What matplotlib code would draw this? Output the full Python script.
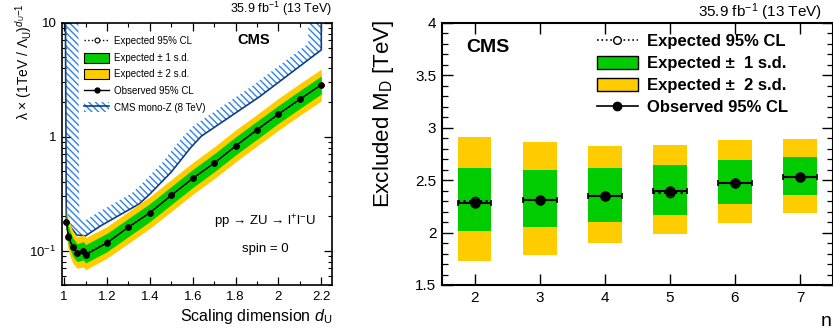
import matplotlib.pyplot as plt
import numpy as np
from matplotlib.lines import Line2D
from matplotlib.patches import Patch, Polygon
from matplotlib.ticker import FuncFormatter, MultipleLocator, NullFormatter, LogLocator

plt.rcParams["font.family"] = ["Liberation Sans", "DejaVu Sans"]
plt.rcParams["mathtext.fontset"] = "custom"
plt.rcParams["mathtext.rm"] = "Liberation Sans"
plt.rcParams["mathtext.it"] = "Liberation Sans:italic"
plt.rcParams["mathtext.bf"] = "Liberation Sans:bold"
plt.rcParams["hatch.linewidth"] = 1.0

GREEN = "#00cc00"
YELLOW = "#ffcc00"
HATCH_BLUE = "#2f82e0"
NAVY = "#123f7c"

# gauche : limites unparticle en fonction de d_U
d_u = [1.01, 1.02, 1.04, 1.06, 1.09, 1.10, 1.2, 1.3, 1.4, 1.5, 1.6, 1.7, 1.8, 1.9, 2.0, 2.1, 2.2]
obs_lambda = [0.177, 0.133, 0.107, 0.095, 0.099, 0.092, 0.117, 0.161, 0.215, 0.306, 0.431,
              0.585, 0.828, 1.15, 1.58, 2.13, 2.86]
exp_lambda = [0.180, 0.135, 0.108, 0.096, 0.100, 0.094, 0.118, 0.160, 0.216, 0.305, 0.430,
              0.590, 0.830, 1.14, 1.57, 2.12, 2.84]
exp_1sd_lo = [0.150, 0.112, 0.090, 0.080, 0.083, 0.078, 0.098, 0.133, 0.180, 0.254, 0.358,
              0.492, 0.692, 0.95, 1.31, 1.77, 2.37]
exp_1sd_hi = [0.216, 0.162, 0.130, 0.115, 0.120, 0.113, 0.142, 0.192, 0.259, 0.366, 0.516,
              0.708, 0.996, 1.37, 1.88, 2.54, 3.41]
exp_2sd_lo = [0.130, 0.098, 0.078, 0.070, 0.072, 0.068, 0.086, 0.116, 0.157, 0.221, 0.312,
              0.428, 0.601, 0.83, 1.14, 1.54, 2.06]
exp_2sd_hi = [0.248, 0.186, 0.149, 0.132, 0.138, 0.130, 0.163, 0.221, 0.298, 0.421, 0.593,
              0.814, 1.145, 1.57, 2.17, 2.93, 3.92]

# CMS mono-Z 8 TeV
monoz_d = [1.006, 1.01, 1.06, 1.10, 1.17, 1.35, 1.40, 1.50, 1.59, 1.64, 1.91, 2.20, 2.20]
monoz_lim = [12.0, 0.18, 0.137, 0.135, 0.165, 0.257, 0.314, 0.49, 0.80, 1.01, 2.23, 5.77, 12.0]

# droite : limites sur M_D en fonction de n
n_dim = [2, 3, 4, 5, 6, 7]
obs_md = [2.28, 2.31, 2.35, 2.40, 2.47, 2.53]
exp_md = [2.30, 2.31, 2.35, 2.38, 2.47, 2.53]
md_1sd_lo = [2.015, 2.053, 2.097, 2.167, 2.275, 2.357]
md_1sd_hi = [2.615, 2.596, 2.615, 2.643, 2.690, 2.720]
md_2sd_lo = [1.728, 1.790, 1.900, 1.989, 2.094, 2.189]
md_2sd_hi = [2.913, 2.866, 2.825, 2.834, 2.882, 2.891]

W, H = 833, 334


def px(x, y):
    return x / W, 1 - y / H


def band_inside(ax, xs, ys, width_px):
    pts = ax.transData.transform(np.column_stack([xs, ys]))
    seg = np.diff(pts, axis=0)
    seg /= np.hypot(seg[:, 0], seg[:, 1])[:, None]
    normals = np.column_stack([-seg[:, 1], seg[:, 0]])
    off = []
    for i in range(len(pts)):
        if i == 0:
            n = normals[0]
        elif i == len(pts) - 1:
            n = normals[-1]
        else:
            m = normals[i - 1] + normals[i]
            m /= np.hypot(*m)
            n = m / np.dot(m, normals[i])
        off.append(pts[i] + width_px * n)
    inner = ax.transData.inverted().transform(np.array(off))
    return np.vstack([np.column_stack([xs, ys]), inner[::-1]])


fig = plt.figure(figsize=(W / 100, H / 100), dpi=100)

# ---------------- panneau gauche ----------------
ax1 = fig.add_axes([62 / W, 49 / H, 270 / W, 262.3 / H])
ax1.set_xlim(0.99, 2.25)
ax1.set_ylim(0.05, 10)
ax1.set_yscale("log")

poly = band_inside(ax1, monoz_d, monoz_lim, 13)
ax1.add_patch(Polygon(poly, closed=True, facecolor="none", edgecolor=HATCH_BLUE,
                      hatch="\\\\\\\\\\", lw=0, zorder=1))
ax1.plot(monoz_d, monoz_lim, color=NAVY, lw=1.2, zorder=2)

ax1.fill_between(d_u, exp_2sd_lo, exp_2sd_hi, color=YELLOW, lw=0, zorder=3)
ax1.fill_between(d_u, exp_1sd_lo, exp_1sd_hi, color=GREEN, lw=0, zorder=4)
ax1.plot(d_u, exp_lambda, color="black", ls=":", lw=1.0, marker="o", ms=3.5,
         mfc="none", mew=0.8, zorder=5)
ax1.plot(d_u, obs_lambda, color="black", lw=1.0, marker="o", ms=3.8, zorder=6)

ax1.set_yticks([0.1, 1, 10], labels=[r"$10^{-1}$", "1", "10"])
ax1.yaxis.set_minor_locator(LogLocator(base=10, subs=np.arange(2, 10)))
ax1.yaxis.set_minor_formatter(NullFormatter())
ax1.xaxis.set_major_locator(MultipleLocator(0.2))
ax1.xaxis.set_minor_locator(MultipleLocator(0.1))
ax1.xaxis.set_major_formatter(FuncFormatter(lambda v, p: f"{v:g}"))
ax1.tick_params(which="both", direction="in", top=True, right=True, labelsize=9.5, pad=4)
ax1.tick_params(which="major", length=6, width=0.9)
ax1.tick_params(which="minor", length=3, width=0.8)
for s in ax1.spines.values():
    s.set_linewidth(1.2)

leg1_handles = [
    Line2D([], [], color="black", ls=":", lw=1.0, marker="o", ms=3.5, mfc="white", mew=0.8),
    Patch(facecolor=GREEN, edgecolor="black", lw=0.8),
    Patch(facecolor=YELLOW, edgecolor="black", lw=0.8),
    Line2D([], [], color="black", lw=1.0, marker="o", ms=3.5),
    (Patch(facecolor="none", edgecolor=HATCH_BLUE, hatch="\\\\\\\\\\", lw=0),
     Line2D([], [], color=NAVY, lw=1.2)),
]
leg1_labels = ["Expected 95% CL", "Expected ± 1 s.d.", "Expected ± 2 s.d.",
               "Observed 95% CL", "CMS mono-Z (8 TeV)"]
ax1.legend(leg1_handles, leg1_labels, loc="upper left", bbox_to_anchor=px(84, 36),
           bbox_transform=fig.transFigure, frameon=False, fontsize=7, borderpad=0,
           borderaxespad=0, handlelength=2.6, handleheight=1.2, handletextpad=0.5,
           labelspacing=0.65)

fig.text(*px(254, 40), "CMS", fontsize=10.5, fontweight="bold", ha="center", va="center")
fig.text(*px(265, 222), r"pp → ZU → l$^{+}$l$^{-}$U", fontsize=9.5,
         ha="center", va="center")
fig.text(*px(265, 249), "spin = 0", fontsize=9.5, ha="center", va="center")
fig.text(*px(332, 13), r"35.9 fb$^{-1}$ (13 TeV)", fontsize=9, ha="right", va="baseline")
fig.text(*px(332, 317), r"Scaling dimension $d_{\mathrm{U}}$", fontsize=11.5, ha="right",
         va="center")
fig.text(*px(24, 3), r"λ × (1TeV / Λ$_{\mathrm{U}}$)$^{d_{\mathrm{U}}\mathrm{-1}}$",
         fontsize=10, rotation=90, ha="center", va="top")

# ---------------- panneau droit ----------------
ax2 = fig.add_axes([442 / W, 49 / H, 390.5 / W, 262.3 / H])
ax2.set_xlim(1.5, 7.5)
ax2.set_ylim(1.5, 4)

bar_w = 0.52
ax2.bar(n_dim, np.subtract(md_2sd_hi, md_2sd_lo), bottom=md_2sd_lo, width=bar_w,
        color=YELLOW, lw=0, zorder=2)
ax2.bar(n_dim, np.subtract(md_1sd_hi, md_1sd_lo), bottom=md_1sd_lo, width=bar_w,
        color=GREEN, lw=0, zorder=3)
eb = ax2.errorbar(n_dim, exp_md, xerr=bar_w / 2, fmt="o", color="black", ms=6, mfc="none",
                  mew=1.0, elinewidth=1.5, capsize=0, zorder=4)
eb[2][0].set_linestyle(":")
ax2.errorbar(n_dim, obs_md, xerr=bar_w / 2, fmt="o", color="black", ms=6.5,
             elinewidth=1.5, capsize=2.5, capthick=1.2, zorder=5)

ax2.xaxis.set_major_locator(MultipleLocator(1))
ax2.yaxis.set_major_locator(MultipleLocator(0.5))
ax2.yaxis.set_minor_locator(MultipleLocator(0.1))
ax2.yaxis.set_major_formatter(FuncFormatter(lambda v, p: f"{v:g}"))
ax2.tick_params(which="both", direction="in", top=True, right=True, labelsize=11, pad=4)
ax2.tick_params(which="major", length=8, width=1.0)
ax2.tick_params(which="minor", length=4, width=0.9)
for s in ax2.spines.values():
    s.set_linewidth(1.5)

leg2_handles = [
    Line2D([], [], color="black", ls=":", lw=1.2, marker="o", ms=5.5, mfc="white", mew=1.0),
    Patch(facecolor=GREEN, edgecolor="black", lw=1.0),
    Patch(facecolor=YELLOW, edgecolor="black", lw=1.0),
    Line2D([], [], color="black", lw=1.2, marker="o", ms=6),
]
leg2_labels = ["Expected 95% CL", "Expected ±  1 s.d.", "Expected ±  2 s.d.",
               "Observed 95% CL"]
ax2.legend(leg2_handles, leg2_labels, loc="upper left", bbox_to_anchor=px(597, 34),
           bbox_transform=fig.transFigure, frameon=False, borderpad=0,
           borderaxespad=0, handlelength=2.45, handleheight=0.84, handletextpad=0.57,
           labelspacing=0.4, prop={"size": 12, "weight": "bold"})

fig.text(*px(488, 47), "CMS", fontsize=14, fontweight="bold", ha="center", va="center")
fig.text(*px(822, 17), r"35.9 fb$^{-1}$ (13 TeV)", fontsize=11, ha="right", va="baseline")
fig.text(*px(383, 20), r"Excluded M$_{\mathrm{D}}$ [TeV]", fontsize=16, rotation=90,
         ha="center", va="top")
fig.text(*px(821, 322), "n", fontsize=14, ha="left", va="center")

fig.savefig("out.png", dpi=100)
